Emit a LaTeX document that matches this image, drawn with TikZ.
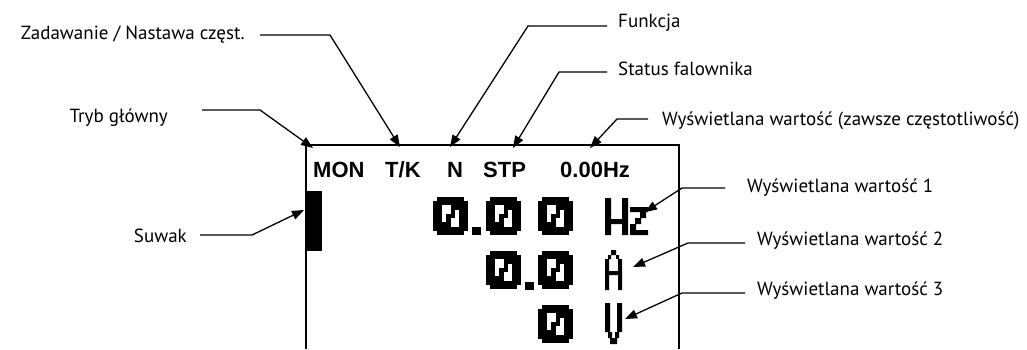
\documentclass[tikz,border=0pt]{standalone}
\usepackage{fontspec}
\setmainfont{PT Sans}
\newfontfamily\lcdfont{Liberation Sans}
\usetikzlibrary{arrows.meta}

\tikzset{
	lcdzero/.pic={
		\foreach \r/\a/\b in {0/1/7,1/0/8,2/0/2,2/4/8,3/0/2,3/4/5,3/6/8,4/0/2,4/3/5,4/6/8,5/0/2,5/3/4,5/6/8,6/0/4,6/6/8,7/0/8,8/1/7}
			\fill (\a*4.375,\r*4.22) rectangle (\b*4.375,\r*4.22+4.22);
	},
	lcddot/.pic={\fill (0,0) rectangle (9,8);}
}

\begin{document}
\begin{tikzpicture}[x=1pt, y=-1pt,
	callout/.style={font=\fontsize{19}{23}\selectfont, inner sep=0, anchor=base west},
	lcdtext/.style={font=\lcdfont\bfseries\fontsize{22}{26}\selectfont, inner sep=0, anchor=base west},
	pointer/.style={-{Triangle[length=12pt,width=9pt]}, line width=1.3pt}]
	\useasboundingbox (0,0) rectangle (1027,349);

	% display frame and slider
	\draw[line width=2pt] (306,349) -- (306,145) -- (679,145) -- (679,349);
	\fill (306,191) rectangle (322,251);

	\node[lcdtext] (mon) at (313,177) {MON};
	\node[lcdtext] (tk) at (385,177) {T/K};
	\node[lcdtext] (n) at (447,177) {N};
	\node[lcdtext] (stp) at (483,177) {STP};
	\node[lcdtext] (freq) at (560,177) {0.00Hz};

	% big pixel digits
	\pic at (433,197) {lcdzero};
	\pic at (472,227) {lcddot};
	\pic at (486,197) {lcdzero};
	\pic at (538,197) {lcdzero};
	\pic at (486,251) {lcdzero};
	\pic at (525,282) {lcddot};
	\pic at (538,251) {lcdzero};
	\pic at (538,305) {lcdzero};

	% units Hz, A, V
	\fill (605,198) rectangle (611,235) (622,198) rectangle (628,235) (605,219) rectangle (628,224);
	\fill (630,207) rectangle (648,212) (640,212) rectangle (646,218) (635,218) rectangle (641,224)
		(630,224) rectangle (636,230) (630,230) rectangle (648,235);
	\fill (611,250) rectangle (616,255) (608,255) rectangle (611,259) (616,255) rectangle (619,259)
		(605,259) rectangle (609,290) (618,259) rectangle (622,290) (605,271) rectangle (622,275);
	\fill (605,303) rectangle (610,332) (617,303) rectangle (622,332) (608,332) rectangle (612,338)
		(615,332) rectangle (619,338) (610,338) rectangle (617,344);

	\node[callout, anchor=base east] (zad) at (245,39) {Zadawanie / Nastawa częst.};
	\node[callout, anchor=base east] (tryb) at (168,122) {Tryb główny};
	\node[callout, anchor=base east] (suwak) at (187,242) {Suwak};
	\node[callout] (funkcja) at (618,27) {Funkcja};
	\node[callout] (status) at (618,75) {Status falownika};
	\node[callout] (wart) at (662,125) {Wyświetlana wartość (zawsze częstotliwość)};
	\node[callout] (wart1) at (747,192) {Wyświetlana wartość 1};
	\node[callout] (wart2) at (757,245) {Wyświetlana wartość 2};
	\node[callout] (wart3) at (757,295) {Wyświetlana wartość 3};

	\coordinate (mon-tip) at (313,148);
	\coordinate (tk-tip) at (400,147);
	\coordinate (n-tip) at (450,147);
	\coordinate (stp-tip) at (513,148);
	\coordinate (freq-tip) at (590,148);
	\coordinate (suwak-tip) at (304,210);
	\coordinate (hz-tip) at (645,212);
	\coordinate (a-tip) at (633,267);
	\coordinate (v-tip) at (625,319);

	\draw[pointer] (zad.base east) ++(15,-4) -- ++(70,0) -- (tk-tip);
	\draw[pointer] (tryb.base east) ++(34,-12) -- ++(58,0) -- (mon-tip);
	\draw[pointer] (suwak.base east) ++(13,-7) -- ++(52,0) -- (suwak-tip);
	\draw[pointer] (funkcja.base west) ++(-11,-1) -- ++(-79,0) -- (n-tip);
	\draw[pointer] (status.base west) ++(-11,-3) -- ++(-48,0) -- (stp-tip);
	\draw[pointer] (wart.base west) ++(-14,-6) -- ++(-31,0) -- (freq-tip);
	\draw[pointer] (wart1.base west) ++(-22,-4) -- ++(-43,0) -- (hz-tip);
	\draw[pointer] (wart2.base west) ++(-12,-2) -- ++(-57,0) -- (a-tip);
	\draw[pointer] (wart3.base west) ++(-12,-2) -- ++(-63,0) -- (v-tip);
\end{tikzpicture}
\end{document}
